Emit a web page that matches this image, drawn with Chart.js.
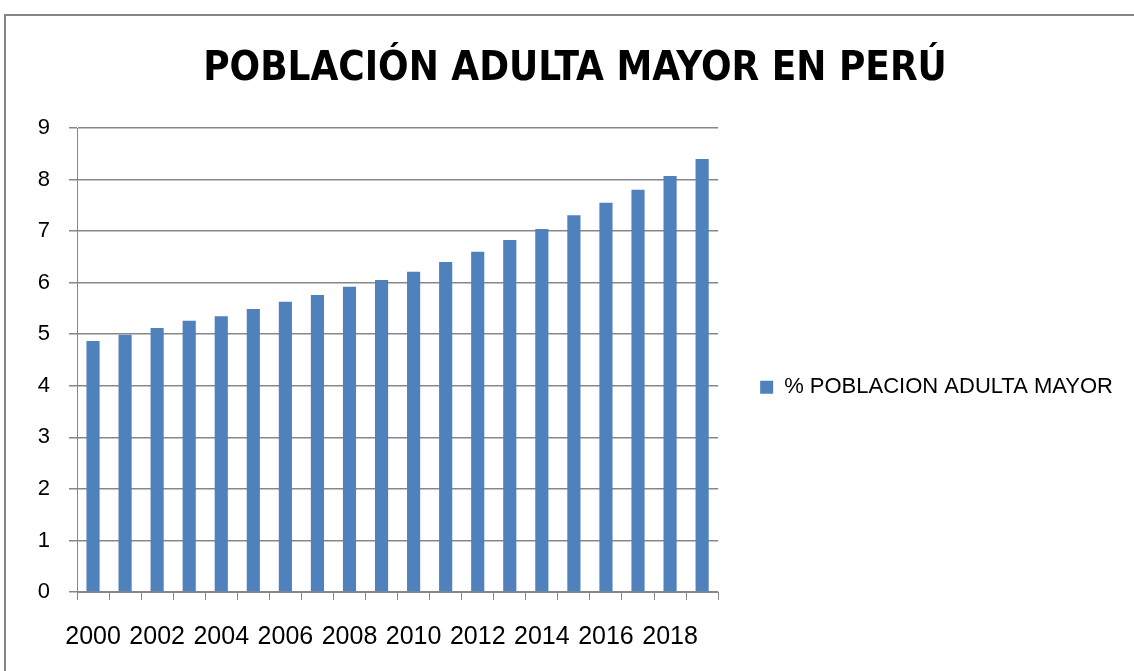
<!DOCTYPE html>
<html>
<head>
<meta charset="utf-8">
<script src="https://cdn.jsdelivr.net/npm/chart.js@4/dist/chart.umd.min.js"></script>
<style>
  html, body { margin: 0; padding: 0; background: #fff; overflow: hidden; }
  #wrap { position: relative; width: 1134px; height: 671px; }
  #frame { position: absolute; left: 4px; top: 14px; width: 1200px; height: 700px;
    border: 2px solid #868686; pointer-events: none; }
</style>
</head>
<body>
<div id="wrap">
  <canvas id="chart" width="1134" height="671"></canvas>
  <div id="frame"></div>
</div>
<script>
"use strict";

// Población adulta mayor en Perú, % of population per year.
const YEARS = ["2000", "2001", "2002", "2003", "2004", "2005", "2006", "2007", "2008", "2009",
  "2010", "2011", "2012", "2013", "2014", "2015", "2016", "2017", "2018", "2019"];
const PCT_ADULTO_MAYOR = [4.87, 4.99, 5.12, 5.26, 5.35, 5.49, 5.63, 5.76, 5.92, 6.05,
  6.21, 6.40, 6.60, 6.83, 7.04, 7.31, 7.55, 7.80, 8.07, 8.40];
const SERIES_LABEL = "% POBLACION ADULTA MAYOR";
const TITLE = "POBLACIÓN ADULTA MAYOR EN PERÚ";

const GRID = "#878787";
const BAR = "#4f81bd";

new Chart(document.getElementById("chart"), {
  type: "bar",
  data: {
    labels: YEARS,
    datasets: [{ label: SERIES_LABEL, data: PCT_ADULTO_MAYOR, backgroundColor: BAR,
      barPercentage: 0.41, categoryPercentage: 1 }],
  },
  options: {
    responsive: false,
    animation: false,
    layout: { padding: { left: 27, right: 11, top: 0, bottom: -3 } },
    plugins: {
      tooltip: { enabled: false },
      title: {
        display: true, text: TITLE, color: "#000",
        font: { family: "'DejaVu Sans Condensed', 'Liberation Sans'", size: 40, weight: "bold" },
        padding: { top: 46, bottom: 34 },
      },
      legend: {
        position: "right", fullSize: false, maxWidth: 500,
        title: { display: true, text: "", padding: 20 },
        labels: { color: "#000", boxWidth: 13, boxHeight: 13, padding: 42,
          font: { family: "'Liberation Sans', Arial", size: 22 } },
      },
    },
    scales: {
      x: {
        offset: true,
        grid: { offset: true, drawOnChartArea: false, drawTicks: true, tickLength: 8, color: GRID },
        border: { display: true, color: GRID, width: 1 },
        ticks: { autoSkip: false, maxRotation: 0, padding: 22, color: "#000",
          font: { family: "'Liberation Sans', Arial", size: 25 },
          callback: (v, i) => (i % 2 === 0 ? YEARS[i] : "") },
      },
      y: {
        min: 0, max: 9,
        afterFit: (scale) => { scale.width = 50; },
        grid: { color: GRID, lineWidth: 1.5, tickLength: 8 },
        border: { display: true, color: GRID, width: 1 },
        ticks: { stepSize: 1, padding: 19, color: "#000",
          font: { family: "'Liberation Sans', Arial", size: 22 } },
      },
    },
  },
});
</script>
</body>
</html>
